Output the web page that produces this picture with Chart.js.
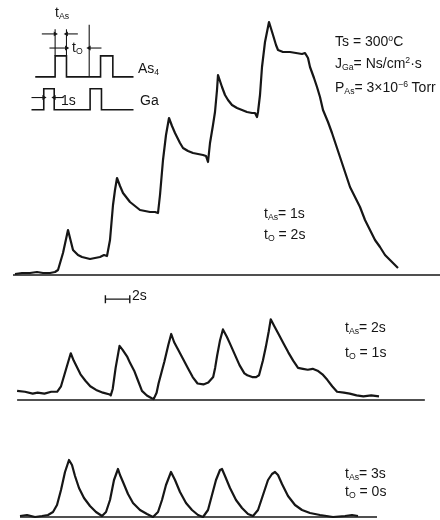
<!DOCTYPE html>
<html>
<head>
<meta charset="utf-8">
<script src="https://cdn.jsdelivr.net/npm/chart.js@4.4.1/dist/chart.umd.min.js"></script>
<style>
    html, body { margin: 0; padding: 0; background: #fff; }
    #page { position: relative; width: 440px; height: 520px; overflow: hidden; }
    canvas { position: absolute; left: 0; }
    .lbl {
        position: absolute;
        font-family: 'Liberation Sans', Arial, sans-serif;
        font-size: 14px;
        line-height: 1;
        color: #151515;
        white-space: nowrap;
    }
    .lbl sub { font-size: 0.62em; vertical-align: -0.25em; }
    .lbl sup { font-size: 0.62em; vertical-align: 0.55em; }
</style>
</head>
<body>
<div id="page">
    <canvas id="inset" width="150" height="125" style="top:0"></canvas>
    <canvas id="trace1" width="440" height="280" style="top:0"></canvas>
    <canvas id="trace2" width="440" height="130" style="top:280px"></canvas>
    <canvas id="trace3" width="440" height="110" style="top:410px"></canvas>

    <div class="lbl" style="left:335px;top:34px">Ts = 300<sup>o</sup>C</div>
    <div class="lbl" style="left:335px;top:56px">J<sub>Ga</sub>= Ns/cm<sup>2</sup>·s</div>
    <div class="lbl" style="left:335px;top:80px">P<sub>As</sub>= 3×10<sup>−6</sup> Torr</div>

    <div class="lbl" style="left:264px;top:206px">t<sub>As</sub>= 1s</div>
    <div class="lbl" style="left:264px;top:227px">t<sub>O</sub> = 2s</div>

    <div class="lbl" style="left:132px;top:288px">2s</div>
    <div class="lbl" style="left:345px;top:320px">t<sub>As</sub>= 2s</div>
    <div class="lbl" style="left:345px;top:345px">t<sub>O</sub> = 1s</div>

    <div class="lbl" style="left:345px;top:466px">t<sub>As</sub>= 3s</div>
    <div class="lbl" style="left:345px;top:484px">t<sub>O</sub> = 0s</div>

    <div class="lbl" style="left:55px;top:5px">t<sub>As</sub></div>
    <div class="lbl" style="left:72px;top:40px">t<sub>O</sub></div>
    <div class="lbl" style="left:138px;top:61px">As<sub>4</sub></div>
    <div class="lbl" style="left:140px;top:93px">Ga</div>
    <div class="lbl" style="left:61px;top:93px">1s</div>
</div>

<script>
// time in seconds, signal in arbitrary units above each baseline

// t_As = 1s, t_0 = 2s
const time1 = [0, 0.56, 1.2, 1.76, 2.24, 2.8, 3.2, 3.44, 3.84, 4.24, 4.64, 5.04, 5.36, 6.0, 6.4, 6.8, 7.12, 7.36,
    7.6, 7.84, 8.0, 8.16, 8.4, 8.64, 9.2, 9.6, 10.0, 10.4, 10.8, 11.2, 11.44,
    11.6, 11.84, 12.08, 12.32, 12.56, 12.8, 13.2, 13.44, 13.84, 14.24, 14.64, 15.04, 15.28, 15.44,
    15.6, 15.84, 16.0, 16.16, 16.24, 16.56, 16.8, 17.04, 17.36, 17.76, 18.16, 18.56, 18.96, 19.2, 19.36, 19.44,
    19.6, 19.76, 20.0, 20.32, 20.64, 20.88, 21.04, 21.44, 22.0, 22.48, 22.96, 23.2, 23.44,
    23.6, 23.92, 24.16, 24.4, 24.64, 25.04, 25.36, 25.68, 26.0, 26.4, 26.8, 27.2, 27.6, 28.0,
    28.4, 28.8, 29.2, 29.6, 30.0, 30.32, 30.64];
const signal1 = [0.4, 0.8, 0.8, 1.2, 0.8, 0.8, 1.2, 2, 8.8, 18, 10, 8, 7.2, 6.4, 6.8, 7.2, 8, 7.6,
    14, 28, 34, 38.8, 35.6, 32.8, 29.2, 27.6, 26, 25.6, 25.2, 25.2, 24.8,
    32, 46, 56, 62.8, 59.6, 56.8, 52.8, 50.8, 49.6, 48.8, 48.4, 48, 47.6, 45.2,
    52.8, 60, 65.2, 74, 80, 75.2, 72, 70, 68, 66.8, 66, 65.2, 64.8, 64.8, 63.2, 65.2,
    72, 83.2, 93.2, 101.2, 96, 92, 90, 89.2, 89.2, 88.8, 88.4, 88.8, 86.8,
    83.2, 78.8, 75.2, 71.2, 66, 61.2, 56.8, 52, 47.2, 41.2, 35.2, 31.2, 27.2, 22,
    18, 14, 11.2, 8, 6, 4.4, 2.8];

// t_As = 2s, t_0 = 1s
const time2 = [-0.24, 0.4, 1.04, 1.44, 2.0, 2.56, 3.04, 3.36, 3.76, 4.16, 4.4, 4.96, 5.36, 5.76, 6.24, 6.8, 7.36, 7.44,
    7.6, 7.84, 8.16, 8.4, 8.8, 9.04, 9.36, 9.68, 10.0, 10.4, 10.8, 10.96,
    11.2, 11.36, 11.6, 11.84, 12.16, 12.4, 12.64, 12.96, 13.36, 13.76, 14.16, 14.56, 15.04, 15.44,
    15.84, 16.0, 16.16, 16.4, 16.64, 16.96, 17.2, 17.6, 18.0, 18.4, 18.64, 19.04, 19.36, 19.6,
    19.92, 20.16, 20.4, 20.56, 20.88, 21.2, 21.6, 22.0, 22.4, 22.8, 23.2, 23.6, 24.0, 24.4, 24.8,
    25.2, 25.6, 26.0, 26.56, 27.04, 27.6, 28.16, 28.8, 29.44];
const signal2 = [4, 3.6, 2.8, 3.2, 2.8, 3.6, 3.6, 6, 13.2, 20.4, 17.2, 11.2, 8.4, 6, 4.4, 3.2, 2.4, 2,
    4.8, 14, 23.6, 22, 18.8, 16, 12.8, 8.4, 4, 2, 0.8, 0.4,
    3.2, 7.2, 12, 16.8, 24, 28.8, 25.2, 22, 18, 14, 10, 7.2, 6.8, 7.6,
    10, 14, 19.2, 26, 30.8, 27.6, 24.8, 20, 15.2, 11.6, 10.8, 10, 10, 10.8,
    17.2, 23.2, 30, 35.2, 32, 28.8, 24.8, 20.8, 17.2, 14, 13.6, 13.2, 13.6, 12.8, 11.2,
    8.8, 6, 3.6, 3.2, 2.8, 2, 1.6, 2, 1.6];

// t_As = 3s, t_0 = 0s
const time3 = [0.4, 0.96, 1.6, 2.16, 2.64, 3.04, 3.36, 3.68, 4.0, 4.32, 4.56, 4.8, 5.12, 5.52, 6.0, 6.48, 6.96,
    7.28, 7.6, 7.92, 8.24, 8.4, 8.64, 9.04, 9.44, 10.0, 10.56, 11.04,
    11.44, 11.76, 12.08, 12.48, 12.8, 13.2, 13.68, 14.16, 14.64, 15.04,
    15.44, 15.76, 16.08, 16.4, 16.56, 16.8, 17.2, 17.68, 18.16, 18.64, 19.04,
    19.44, 19.84, 20.24, 20.56, 20.8, 21.04, 21.36, 21.84, 22.4, 22.96, 23.6, 24.4, 25.44, 26.4, 26.96, 27.44];
const signal3 = [0.4, 0.8, 0, 0.4, 0.8, 2, 4.8, 10.8, 18, 22.8, 20.8, 16.4, 11.6, 7.6, 4.4, 2, 0.4,
    2, 6.8, 14.8, 19.2, 16.8, 14, 9.2, 5.6, 2.8, 1.2, 0,
    2, 6.8, 12.8, 18, 14.8, 10, 5.6, 2.8, 0.8, 0,
    2.8, 8.8, 14.8, 18.8, 19.2, 16.4, 11.6, 6.8, 3.6, 1.2, 0.4,
    2.8, 8.8, 14.8, 17.2, 18, 16.8, 13.2, 8.4, 4.8, 2.8, 1.6, 0.8, 0, 0.4, 0.8, 0.4];

// baseline extents (s) for each trace
const baseline1 = [-0.16, 34];
const baseline2 = [-0.24, 33.2];
const baseline3 = [0.4, 28.96];

// 2 s scale bar
const scaleBarTime = [7, 9];
const scaleBarLevel = 44;

// shutter sequence sketch: [time, level]
const gaLow = 0, gaHigh = 1;
const asLow = 1.56, asHigh = 2.56;
const gaSteps = [[-1.08, gaLow], [0, gaHigh], [0.92, gaLow], [4.08, gaHigh], [5.08, gaLow], [7.9, gaLow]];
const asSteps = [[-0.75, asLow], [1, asHigh], [2, asLow], [5, asHigh], [6.08, asLow], [7.9, asLow]];
// guide lines and arrows: [x0, y0, x1, y1], arrow head at the second point
const guideLines = [[1, asHigh, 1, 3.82], [2, asHigh, 2, 3.82], [4, asLow, 4, 4.04]];
const arrows = [
    [-0.17, 3.6, 1, 3.6], [3, 3.6, 2, 3.6],
    [0.5, 2.93, 2, 2.93], [5.08, 2.93, 4, 2.93],
    [-1.08, 0.58, 0, 0.58], [1.75, 0.58, 0.92, 0.58]
];

const INK = '#161616';

function toPoints(xs, ys) {
    return xs.map((x, i) => ({ x: x, y: ys[i] }));
}

function traceSet(xs, ys) {
    return {
        data: toPoints(xs, ys),
        borderColor: INK,
        borderWidth: 2.2,
        borderJoinStyle: 'round',
        pointRadius: 0,
        tension: 0
    };
}

function baselineSet(ends) {
    return {
        data: ends.map(x => ({ x: x, y: 0 })),
        borderColor: INK,
        borderWidth: 1.6,
        pointRadius: 0
    };
}

function hiddenScales(xMin, xMax, yMin, yMax) {
    return {
        x: { type: 'linear', display: false, min: xMin, max: xMax },
        y: { type: 'linear', display: false, min: yMin, max: yMax }
    };
}

function baseOptions(scales) {
    return {
        responsive: false,
        animation: false,
        events: [],
        layout: { padding: 0 },
        plugins: { legend: { display: false }, tooltip: { enabled: false } },
        scales: scales
    };
}

function makeTrace(id, xs, ys, ends, yMin, yMax, extra) {
    const datasets = [baselineSet(ends), traceSet(xs, ys)].concat(extra || []);
    return new Chart(document.getElementById(id), {
        type: 'line',
        data: { datasets: datasets },
        options: baseOptions(hiddenScales(-1.2, 34, yMin, yMax))
    });
}

// Trace charts
makeTrace('trace1', time1, signal1, baseline1, -2, 110);

makeTrace('trace2', time2, signal2, baseline2, -2, 50, [{
    data: scaleBarTime.map(x => ({ x: x, y: scaleBarLevel })),
    borderColor: INK,
    borderWidth: 1.4,
    pointStyle: 'line',
    pointRotation: 90,
    pointRadius: 4,
    pointBorderWidth: 1.4,
    pointBorderColor: INK
}]);

makeTrace('trace3', time3, signal3, baseline3, -1.2, 42.8);

// Shutter timing inset
const insetSets = [];
[gaSteps, asSteps].forEach(steps => {
    insetSets.push({
        data: steps.map(p => ({ x: p[0], y: p[1] })),
        stepped: 'before',
        borderColor: INK,
        borderWidth: 1.6,
        pointRadius: 0
    });
});
guideLines.forEach(l => {
    insetSets.push({
        data: [{ x: l[0], y: l[1] }, { x: l[2], y: l[3] }],
        borderColor: INK,
        borderWidth: 1.1,
        pointRadius: 0
    });
});
arrows.forEach(a => {
    const pointsRight = a[2] > a[0];
    insetSets.push({
        data: [{ x: a[0], y: a[1] }, { x: a[2], y: a[3] }],
        borderColor: INK,
        borderWidth: 1.1,
        pointStyle: 'triangle',
        pointRadius: [0, 2.8],
        pointRotation: pointsRight ? 90 : 270,
        pointBackgroundColor: INK,
        pointBorderColor: INK,
        pointBorderWidth: 0
    });
});

new Chart(document.getElementById('inset'), {
    type: 'line',
    data: { datasets: insetSets },
    options: baseOptions(hiddenScales(-3.5, 9, -0.533, 5.02))
});
</script>
</body>
</html>
